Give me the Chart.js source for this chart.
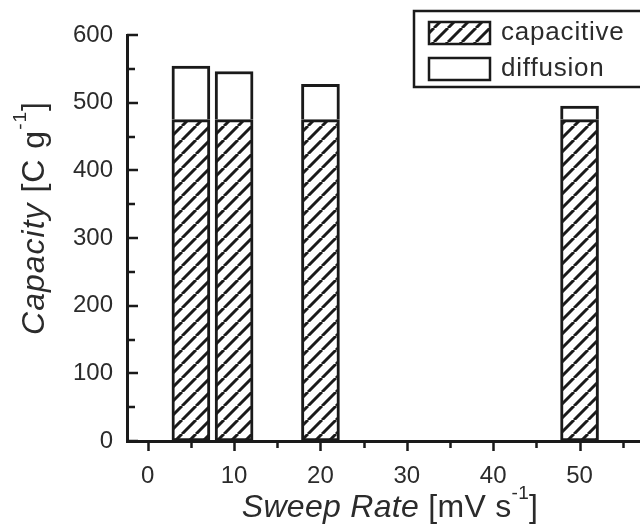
<!DOCTYPE html>
<html>
<head>
<meta charset="utf-8">
<script src="https://cdn.jsdelivr.net/npm/chart.js@4"></script>
<style>
  html, body { margin: 0; padding: 0; background: #fff; }
  #wrap { width: 640px; height: 525px; position: relative; }
</style>
</head>
<body>
<div id="wrap"><canvas id="capChart"></canvas></div>
<script>
const rates = [5, 10, 20, 50];
const capacitive = [475, 475, 475, 475];
const diffusion = [79, 71, 52, 20];
const xTicks = [0, 10, 20, 30, 40, 50];
const yTicks = [0, 100, 200, 300, 400, 500, 600];
const seriesNames = ['capacitive', 'diffusion'];

const ink = '#1a1a1a';
const textInk = '#2b2b2b';
const font = '"Liberation Sans", Arial, sans-serif';

// diagonal hatch fill
function makeHatch() {
	const s = 14;
	const c = document.createElement('canvas');
	c.width = s; c.height = s;
	const g = c.getContext('2d');
	g.fillStyle = '#fff';
	g.fillRect(0, 0, s, s);
	g.strokeStyle = ink;
	g.lineWidth = 3;
	g.beginPath();
	for (let k = -1; k <= 1; k++) {
		g.moveTo(k * s, s);
		g.lineTo(k * s + s, 0);
	}
	g.stroke();
	const ctx = document.getElementById('capChart').getContext('2d');
	return ctx.createPattern(c, 'repeat');
}
const hatch = makeHatch();

// inward y ticks, outward x ticks, with minor ticks between the majors
const tickMarks = {
	id: 'tickMarks',
	afterDraw(chart) {
		const ctx = chart.ctx;
		const xs = chart.scales.x, ys = chart.scales.y;
		const area = chart.chartArea;
		ctx.save();
		ctx.strokeStyle = ink;
		ctx.lineWidth = 2.5;
		ctx.beginPath();
		for (let v = 0; v <= 55; v += 5) {
			const px = Math.round(xs.getPixelForValue(v)) + 0.5;
			const len = v % 10 === 0 ? 10 : 7;
			ctx.moveTo(px, area.bottom);
			ctx.lineTo(px, area.bottom + len);
		}
		for (let v = 0; v <= 600; v += 50) {
			const py = Math.round(ys.getPixelForValue(v));
			const len = v % 100 === 0 ? 11 : 8;
			ctx.moveTo(area.left, py);
			ctx.lineTo(area.left + len, py);
		}
		ctx.stroke();
		ctx.restore();
	}
};

// axis titles with italic quantity and superscript unit
function drawParts(ctx, parts, x, y) {
	let total = 0;
	parts.forEach(p => { ctx.font = p.f; total += ctx.measureText(p.t).width; });
	let cx = x - total / 2;
	parts.forEach(p => {
		ctx.font = p.f;
		ctx.fillText(p.t, cx, y + (p.dy || 0));
		cx += ctx.measureText(p.t).width;
	});
}
const titles = {
	id: 'titles',
	afterDraw(chart) {
		const ctx = chart.ctx;
		ctx.save();
		ctx.fillStyle = textInk;
		ctx.textAlign = 'left';
		ctx.textBaseline = 'alphabetic';
		const it = 'italic 32px ' + font, rg = '32px ' + font, sm = '19px ' + font;
		ctx.letterSpacing = '0.3px';
		drawParts(ctx, [
			{t: 'Sweep Rate', f: it}, {t: ' [mV s', f: rg}, {t: '-1', f: sm, dy: -18}, {t: ']', f: rg}
		], 390, 517);
		ctx.letterSpacing = '1px';
		ctx.translate(44, 218);
		ctx.rotate(-Math.PI / 2);
		drawParts(ctx, [
			{t: 'Capacity', f: it}, {t: ' [C g', f: rg}, {t: '-1', f: sm, dy: -18}, {t: ']', f: rg}
		], 0, 0);
		ctx.restore();
	}
};

// framed legend in the top right corner
const boxLegend = {
	id: 'boxLegend',
	afterDraw(chart) {
		const ctx = chart.ctx;
		ctx.save();
		ctx.strokeStyle = ink;
		ctx.lineWidth = 2.5;
		ctx.strokeRect(414, 11, 240, 76);
		const fills = [hatch, '#fff'];
		const rows = [22, 58];
		seriesNames.forEach((name, i) => {
			ctx.fillStyle = fills[i];
			ctx.fillRect(429, rows[i], 61, 22);
			ctx.lineWidth = 2.5;
			ctx.strokeRect(429, rows[i], 61, 22);
			ctx.fillStyle = textInk;
			ctx.font = '26px ' + font;
			ctx.letterSpacing = '0.8px';
			ctx.textAlign = 'left';
			ctx.textBaseline = 'middle';
			ctx.fillText(name, 501, rows[i] + 11);
		});
		ctx.restore();
	}
};

const ctx = document.getElementById('capChart').getContext('2d');
new Chart(ctx, {
	type: 'bar',
	data: {
		datasets: [{
			label: seriesNames[0],
			data: rates.map((r, i) => ({x: r, y: capacitive[i]})),
			backgroundColor: hatch,
			borderColor: ink,
			borderWidth: 3,
			borderSkipped: false,
			barThickness: 38
		}, {
			label: seriesNames[1],
			data: rates.map((r, i) => ({x: r, y: diffusion[i]})),
			backgroundColor: '#fff',
			borderColor: ink,
			borderWidth: 3,
			borderSkipped: 'start',
			barThickness: 38
		}]
	},
	options: {
		responsive: true,
		maintainAspectRatio: false,
		animation: false,
		layout: { padding: { top: 35, right: 0, left: 0, bottom: 0 } },
		plugins: {
			legend: { display: false },
			tooltip: { enabled: false }
		},
		scales: {
			x: {
				type: 'linear',
				stacked: true,
				offset: false,
				min: -2.4,
				max: 57,
				grid: { display: false, offset: false },
				border: { display: true, color: ink, width: 3 },
				afterFit: s => { s.height = 84; },
				afterBuildTicks: s => { s.ticks = xTicks.map(v => ({value: v})); },
				ticks: {
					includeBounds: false,
					autoSkip: false,
					maxRotation: 0,
					padding: 13,
					color: textInk,
					font: { family: font, size: 24 }
				}
			},
			y: {
				stacked: true,
				min: 0,
				max: 600,
				grid: { display: false },
				border: { display: true, color: ink, width: 3 },
				afterFit: s => { s.width = 127; },
				afterBuildTicks: s => { s.ticks = yTicks.map(v => ({value: v})); },
				ticks: {
					padding: 6,
					color: textInk,
					font: { family: font, size: 24 }
				}
			}
		}
	},
	plugins: [tickMarks, titles, boxLegend]
});
</script>
</body>
</html>
